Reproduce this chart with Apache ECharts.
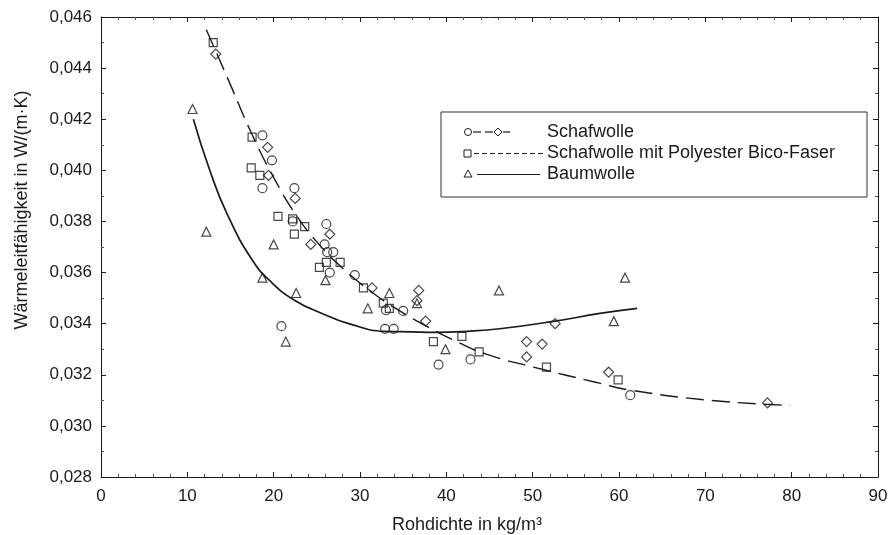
<!DOCTYPE html>
<html lang="de">
<head>
    <meta charset="UTF-8">
    <title>Wärmeleitfähigkeit</title>
    <script src="https://cdn.jsdelivr.net/npm/echarts@6/dist/echarts.min.js"></script>
    <style>
        html, body { margin: 0; padding: 0; background: #fff; }
        #chart { width: 891px; height: 535px; }
    </style>
</head>
<body>
<div id="chart"></div>
<script>
    // Messwerte [Rohdichte, Wärmeleitfähigkeit]
    var wolleKreis = [[18.7,0.04137],[19.8,0.04039],[18.7,0.0393],[22.4,0.0393],[22.2,0.0380],[26.1,0.0379],
        [25.9,0.0371],[26.2,0.0368],[26.9,0.0368],[26.5,0.0360],[29.4,0.0359],[33.0,0.03453],[35.0,0.0345],
        [20.9,0.0339],[32.9,0.0338],[33.9,0.0338],[39.1,0.0324],[42.8,0.0326],[61.3,0.0312]];
    var wolleRaute = [[13.3,0.04455],[19.3,0.0409],[19.4,0.0398],[22.5,0.0389],[26.5,0.0375],[24.3,0.0371],
        [31.4,0.0354],[36.8,0.0353],[36.6,0.0349],[37.6,0.0341],[49.3,0.0333],[51.1,0.0332],[49.3,0.0327],
        [52.6,0.0340],[58.8,0.0321],[77.2,0.0309]];
    var bico = [[13.0,0.0450],[17.5,0.0413],[17.4,0.0401],[18.4,0.0398],[20.5,0.0382],[22.2,0.0381],[23.6,0.0378],
        [22.4,0.0375],[26.1,0.0364],[27.7,0.0364],[25.3,0.0362],[30.4,0.0354],[32.7,0.0348],[33.4,0.0346],
        [38.5,0.0333],[41.8,0.0335],[43.8,0.0329],[51.6,0.0323],[59.9,0.0318]];
    var baum = [[10.6,0.0424],[12.2,0.0376],[18.7,0.0358],[20.0,0.0371],[22.6,0.0352],[21.4,0.0333],[26.0,0.0357],
        [30.9,0.0346],[33.4,0.0352],[36.6,0.0348],[39.9,0.0330],[46.1,0.0353],[59.4,0.0341],[60.7,0.0358]];

    // Ausgleichskurven
    var kurveWolle = [[12.2,0.0455],[14.8,0.0435],[17.5,0.0414],[20.2,0.0396],[22.5,0.0383],[25.0,0.0372],
        [27.9,0.0362],[31.5,0.0352],[34.6,0.0345],[37.7,0.0339],[41.2,0.0333],[44.7,0.0328],[50.1,0.0323],
        [57.4,0.0317],[61.3,0.0314],[70.6,0.0310],[79.8,0.0308]];
    var kurveBaum = [[10.7,0.0420],[12.6,0.0400],[14.6,0.0383],[17.5,0.0365],[19.8,0.0356],[22.5,0.0349],
        [25.6,0.0344],[28.7,0.0340],[32.9,0.0337],[36.0,0.03368],[38.5,0.03366],[42.4,0.0337],[46.2,0.0338],
        [52.6,0.0341],[57.8,0.0344],[62.1,0.0346]];

    var xMin = 0, xMax = 90, xStep = 10;
    var yMin = 0.028, yMax = 0.046, yStep = 0.002;

    var font = 'Liberation Sans, Arial, sans-serif';
    var ink = '#1a1a1a';

    var chart = echarts.init(document.getElementById('chart'));

    function achse(pos, labels) {
        return {
            type: 'value',
            position: pos,
            axisLine: { show: true, onZero: false, lineStyle: { color: ink, width: 1 } },
            axisTick: { show: true, inside: true, length: 5, lineStyle: { color: ink } },
            minorTick: { show: true, splitNumber: 5, length: 3, lineStyle: { color: '#555' } },
            splitLine: { show: false },
            axisLabel: { show: labels, color: ink, fontFamily: font, fontSize: 17, margin: 11 }
        };
    }

    var xUnten = achse('bottom', true);
    xUnten.min = xMin; xUnten.max = xMax; xUnten.interval = xStep;
    var xOben = achse('top', false);
    xOben.min = xMin; xOben.max = xMax; xOben.interval = xStep;

    var yLinks = achse('left', true);
    yLinks.min = yMin; yLinks.max = yMax; yLinks.interval = yStep;
    yLinks.minorTick.splitNumber = 2;
    yLinks.axisLabel.margin = 9;
    yLinks.axisLabel.formatter = function (v) { return v.toFixed(3).replace('.', ','); };
    var yRechts = achse('right', false);
    yRechts.min = yMin; yRechts.max = yMax; yRechts.interval = yStep;
    yRechts.minorTick.splitNumber = 2;

    function punkte(name, data, symbol, size) {
        return {
            name: name,
            type: 'scatter',
            data: data,
            symbol: symbol,
            symbolSize: size,
            itemStyle: { color: 'transparent', borderColor: ink, borderWidth: 1.2 },
            z: 5
        };
    }

    var lx = 441, ly = 112;
    var option = {
        animation: false,
        backgroundColor: '#fff',
        grid: { left: 101, right: 13, top: 17, bottom: 58 },
        xAxis: [xUnten, xOben],
        yAxis: [yLinks, yRechts],
        series: [
            {
                type: 'line', data: kurveWolle, symbol: 'none', smooth: 0.5,
                lineStyle: { color: ink, width: 1.4, type: [18, 8] }
            },
            {
                type: 'line', data: kurveBaum, symbol: 'none', smooth: 0.5,
                lineStyle: { color: ink, width: 1.7 }
            },
            punkte('Schafwolle', wolleKreis, 'circle', 9),
            punkte('Schafwolle', wolleRaute, 'diamond', 10),
            punkte('Schafwolle mit Polyester Bico-Faser', bico, 'rect', 8),
            punkte('Baumwolle', baum, 'triangle', 9)
        ],
        graphic: [
            {
                type: 'text', x: 22, y: 210, rotation: Math.PI / 2,
                style: { text: 'Wärmeleitfähigkeit in W/(m·K)', fill: ink, font: '18px ' + font,
                    align: 'center', verticalAlign: 'middle' }
            },
            {
                type: 'text', x: 467, y: 525,
                style: { text: 'Rohdichte in kg/m³', fill: ink, font: '18px ' + font,
                    align: 'center', verticalAlign: 'middle' }
            },
            // Legende
            {
                type: 'group', z: 100,
                children: [
                    { type: 'rect', shape: { x: lx, y: ly, width: 426, height: 85 },
                        style: { fill: '#fff', stroke: '#333', lineWidth: 1 } },
                    { type: 'circle', shape: { cx: 468, cy: 132, r: 3.5 },
                        style: { fill: 'none', stroke: ink, lineWidth: 1 } },
                    { type: 'line', shape: { x1: 473, y1: 132, x2: 481, y2: 132 }, style: { stroke: ink, lineWidth: 1.2 } },
                    { type: 'line', shape: { x1: 485, y1: 132, x2: 493, y2: 132 }, style: { stroke: ink, lineWidth: 1.2 } },
                    { type: 'polygon', shape: { points: [[498, 128], [502, 132], [498, 136], [494, 132]] },
                        style: { fill: 'none', stroke: ink, lineWidth: 1 } },
                    { type: 'line', shape: { x1: 503, y1: 132, x2: 510, y2: 132 }, style: { stroke: ink, lineWidth: 1.2 } },
                    { type: 'rect', shape: { x: 464, y: 150, width: 7, height: 7 },
                        style: { fill: 'none', stroke: ink, lineWidth: 1 } },
                    { type: 'line', shape: { x1: 474, y1: 153.5, x2: 543, y2: 153.5 },
                        style: { stroke: ink, lineWidth: 1, lineDash: [5, 3] } },
                    { type: 'polygon', shape: { points: [[468, 170], [472, 177], [464, 177]] },
                        style: { fill: 'none', stroke: ink, lineWidth: 1 } },
                    { type: 'line', shape: { x1: 477, y1: 174.5, x2: 540, y2: 174.5 }, style: { stroke: ink, lineWidth: 1.2 } },
                    { type: 'text', x: 547, y: 132, style: { text: 'Schafwolle', fill: ink, font: '18px ' + font, verticalAlign: 'middle' } },
                    { type: 'text', x: 547, y: 153, style: { text: 'Schafwolle mit Polyester Bico-Faser', fill: ink, font: '18px ' + font, verticalAlign: 'middle' } },
                    { type: 'text', x: 547, y: 174, style: { text: 'Baumwolle', fill: ink, font: '18px ' + font, verticalAlign: 'middle' } }
                ]
            }
        ]
    };

    chart.setOption(option);
</script>
</body>
</html>
